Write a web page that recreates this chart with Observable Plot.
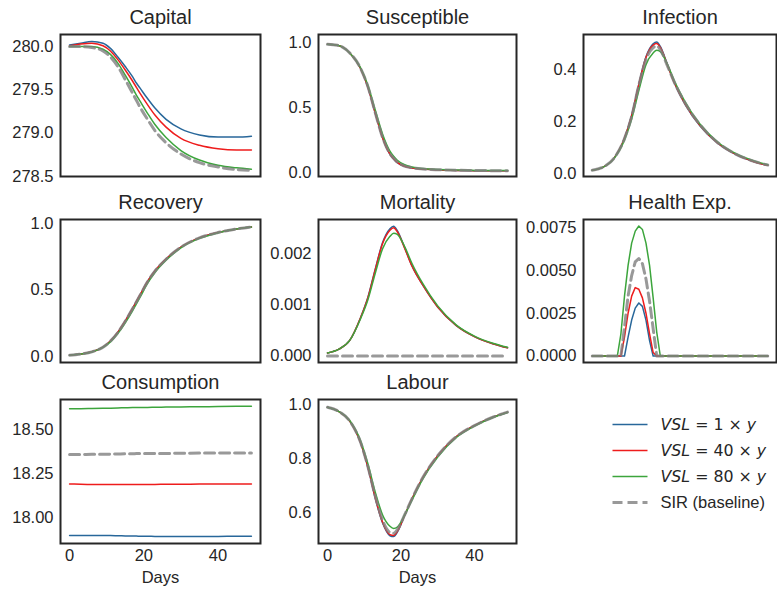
<!DOCTYPE html>
<html><head><meta charset="utf-8">
<script src="https://cdn.jsdelivr.net/npm/d3@7"></script>
<script src="https://cdn.jsdelivr.net/npm/@observablehq/plot@0.6"></script>
<style>
body{margin:0;background:#fff;overflow:hidden}
#chart{position:relative;width:777px;height:590px;background:#fff}
.cell{position:absolute}
.cell svg{display:block}
</style></head><body><div id="chart"></div>
<script>
// ---------- data ----------
const days = [0, 3, 6, 9, 11, 13, 15, 17, 18, 19, 21, 23, 26, 30, 35, 40, 45, 49];
const hDays = [0, 7, 8, 9, 10, 11, 12, 13, 14, 15, 16, 17, 18, 19, 20, 49];
const xTicks = [0, 20, 40];
const seriesNames = ["VSL1", "VSL40", "VSL80", "SIR"];
const legendLabels = ["VSL = 1 × y", "VSL = 40 × y", "VSL = 80 × y", "SIR (baseline)"];

const capBlue  = [280.02, 280.04, 280.06, 280.04, 279.98, 279.88, 279.77, 279.65, 279.58, 279.52, 279.40, 279.29, 279.16, 279.05, 278.98, 278.955, 278.955, 278.965];
const capRed   = [280.01, 280.03, 280.04, 280.01, 279.95, 279.85, 279.73, 279.60, 279.53, 279.46, 279.33, 279.21, 279.07, 278.94, 278.86, 278.82, 278.805, 278.805];
const capGreen = [280.00, 280.00, 280.00, 279.97, 279.91, 279.81, 279.67, 279.52, 279.44, 279.37, 279.23, 279.10, 278.95, 278.80, 278.69, 278.63, 278.60, 278.585];
const capGray  = [280.00, 280.00, 279.99, 279.95, 279.88, 279.77, 279.62, 279.46, 279.38, 279.30, 279.16, 279.03, 278.89, 278.76, 278.66, 278.61, 278.58, 278.57];

const susBlue  = [0.985, 0.975, 0.92, 0.80, 0.655, 0.455, 0.265, 0.14, 0.105, 0.077, 0.048, 0.036, 0.027, 0.021, 0.017, 0.015, 0.014, 0.014];
const susRed   = [0.985, 0.975, 0.92, 0.80, 0.657, 0.457, 0.267, 0.142, 0.107, 0.078, 0.049, 0.036, 0.027, 0.021, 0.017, 0.015, 0.014, 0.014];
const susGreen = [0.985, 0.975, 0.92, 0.805, 0.67, 0.48, 0.295, 0.165, 0.125, 0.095, 0.06, 0.043, 0.031, 0.024, 0.019, 0.017, 0.016, 0.016];
const susGray  = [0.985, 0.975, 0.92, 0.80, 0.66, 0.46, 0.27, 0.145, 0.11, 0.08, 0.05, 0.037, 0.028, 0.022, 0.018, 0.016, 0.015, 0.015];

const infBlue  = [0.013, 0.025, 0.058, 0.137, 0.225, 0.345, 0.45, 0.50, 0.507, 0.49, 0.42, 0.347, 0.265, 0.185, 0.117, 0.074, 0.047, 0.032];
const infRed   = [0.013, 0.025, 0.058, 0.136, 0.223, 0.343, 0.447, 0.495, 0.501, 0.486, 0.418, 0.348, 0.267, 0.187, 0.118, 0.075, 0.047, 0.032];
const infGreen = [0.013, 0.025, 0.057, 0.13, 0.21, 0.32, 0.42, 0.465, 0.475, 0.47, 0.42, 0.355, 0.275, 0.192, 0.122, 0.078, 0.05, 0.034];
const infGray  = [0.013, 0.025, 0.058, 0.135, 0.22, 0.34, 0.44, 0.485, 0.492, 0.478, 0.415, 0.35, 0.27, 0.19, 0.12, 0.076, 0.048, 0.033];

const recBlue  = [0.01, 0.018, 0.035, 0.071, 0.117, 0.183, 0.268, 0.363, 0.413, 0.463, 0.563, 0.643, 0.732, 0.821, 0.89, 0.93, 0.957, 0.972];
const recRed   = [0.01, 0.018, 0.035, 0.071, 0.116, 0.182, 0.267, 0.362, 0.412, 0.462, 0.562, 0.642, 0.731, 0.821, 0.89, 0.93, 0.957, 0.972];
const recGreen = [0.01, 0.018, 0.034, 0.068, 0.11, 0.172, 0.253, 0.345, 0.395, 0.445, 0.548, 0.63, 0.722, 0.815, 0.886, 0.928, 0.956, 0.971];
const recGray  = [0.01, 0.018, 0.035, 0.07, 0.115, 0.18, 0.265, 0.36, 0.41, 0.46, 0.56, 0.64, 0.73, 0.82, 0.89, 0.93, 0.957, 0.972];

const morBlue  = [0.00006, 0.00013, 0.0003, 0.00075, 0.00115, 0.0017, 0.00222, 0.00249, 0.00254, 0.00245, 0.00212, 0.00176, 0.00138, 0.00096, 0.0006, 0.00038, 0.00024, 0.00016];
const morRed   = [0.00006, 0.00013, 0.0003, 0.00075, 0.00114, 0.00169, 0.0022, 0.00246, 0.00251, 0.00243, 0.00211, 0.00176, 0.00138, 0.00096, 0.0006, 0.00038, 0.00024, 0.00016];
const morGreen = [0.00006, 0.00013, 0.0003, 0.00073, 0.0011, 0.00162, 0.0021, 0.00234, 0.0024, 0.00238, 0.00214, 0.00181, 0.00141, 0.00098, 0.00061, 0.00039, 0.00025, 0.00017];
const morGray  = [0, 0, 0, 0, 0, 0, 0, 0, 0, 0, 0, 0, 0, 0, 0, 0, 0, 0];

const heBlue  = [0, 0, 0, 0, 0.0011, 0.0021, 0.0028, 0.0031, 0.0029, 0.0021, 0.0009, 0, 0, 0, 0, 0];
const heRed   = [0, 0, 0, 0.0011, 0.0025, 0.0035, 0.0040, 0.0039, 0.0034, 0.0025, 0.0013, 0.0002, 0, 0, 0, 0];
const heGreen = [0, 0, 0.0013, 0.0035, 0.0053, 0.0066, 0.0073, 0.0076, 0.0074, 0.0066, 0.0053, 0.0034, 0.0014, 0, 0, 0];
const heGray  = [0, 0, 0, 0.0017, 0.0035, 0.0047, 0.0055, 0.0057, 0.0054, 0.0045, 0.0032, 0.0016, 0, 0, 0, 0];

const conBlue  = [17.90, 17.90, 17.90, 17.90, 17.90, 17.899, 17.898, 17.897, 17.897, 17.896, 17.896, 17.895, 17.895, 17.895, 17.895, 17.895, 17.896, 17.896];
const conRed   = [18.193, 18.191, 18.19, 18.19, 18.19, 18.19, 18.19, 18.19, 18.19, 18.19, 18.19, 18.19, 18.191, 18.191, 18.192, 18.192, 18.193, 18.193];
const conGreen = [18.62, 18.62, 18.621, 18.622, 18.623, 18.624, 18.625, 18.626, 18.626, 18.627, 18.627, 18.628, 18.629, 18.63, 18.631, 18.632, 18.633, 18.633];
const conGray  = [18.36, 18.36, 18.361, 18.361, 18.362, 18.363, 18.364, 18.364, 18.365, 18.365, 18.365, 18.366, 18.366, 18.367, 18.368, 18.368, 18.369, 18.369];

const labBlue  = [0.99, 0.975, 0.94, 0.858, 0.766, 0.652, 0.56, 0.513, 0.51, 0.526, 0.588, 0.65, 0.73, 0.81, 0.88, 0.922, 0.953, 0.972];
const labRed   = [0.99, 0.975, 0.94, 0.859, 0.768, 0.655, 0.563, 0.517, 0.514, 0.529, 0.589, 0.65, 0.73, 0.81, 0.88, 0.922, 0.953, 0.972];
const labGreen = [0.99, 0.975, 0.942, 0.866, 0.78, 0.675, 0.59, 0.548, 0.54, 0.545, 0.59, 0.645, 0.725, 0.805, 0.877, 0.92, 0.952, 0.971];
const labGray  = [0.99, 0.975, 0.94, 0.86, 0.77, 0.66, 0.57, 0.525, 0.522, 0.535, 0.59, 0.65, 0.73, 0.81, 0.88, 0.922, 0.953, 0.972];

// ---------- style ----------
const FONT = '"Liberation Sans", Arial, Helvetica, sans-serif';
const INK = "#262626";
const COLORS = ["#28679a", "#ee1c1c", "#3ca53c", "#808080"];
const WIDTHS = [1.5, 1.5, 1.5, 3];
const DASH = [null, null, null, "10,5"];
const OPAC = [1, 1, 1, 0.8];
const COLS = [[60, 260], [318, 516], [583, 776]];
const ROWS = [[34, 176], [219, 362], [399, 543]];
const chart = document.getElementById("chart");

function panel({title, col, row, xs, data, yDomain, yTicks, yFmt, xAxis, curve}) {
  const [x0, x1] = COLS[col], [y0, y1] = ROWS[row];
  const mL = 62, mR = 4, mT = 36, mB = xAxis ? 48 : 6;
  const lines = data.map((vals, k) => Plot.line(vals, {
    x: (d, i) => xs[i], y: d => d,
    stroke: COLORS[k], strokeWidth: WIDTHS[k], strokeOpacity: OPAC[k],
    strokeDasharray: DASH[k], curve: curve || "monotone-x"
  }));
  const svg = Plot.plot({
    width: (x1 - x0) + mL + mR, height: (y1 - y0) + mT + mB,
    marginLeft: mL, marginRight: mR, marginTop: mT, marginBottom: mB,
    style: `font-family: ${FONT}; font-size: 16.5px; color: ${INK}; background: transparent; overflow: visible; max-width: none;`,
    x: {domain: [-2.45, 51.45], axis: null},
    y: {domain: yDomain, axis: null},
    marks: [
      ...lines,
      Plot.frame({stroke: INK, strokeWidth: 2}),
      Plot.axisY({ticks: yTicks, tickFormat: d3.format(yFmt), tickSize: 0, tickPadding: 7, fontSize: 16.5, label: null}),
      xAxis ? Plot.axisX({ticks: xTicks, tickSize: 0, tickPadding: 6, fontSize: 16.5, label: null}) : null,
      Plot.text([title], {frameAnchor: "top", lineAnchor: "middle", dy: -17, fontSize: 20, fill: INK}),
      xAxis ? Plot.text(["Days"], {frameAnchor: "bottom", lineAnchor: "middle", dy: 34, fontSize: 16.5, fill: INK}) : null
    ]
  });
  const div = document.createElement("div");
  div.className = "cell";
  div.style.left = (x0 - mL) + "px";
  div.style.top = (y0 - mT) + "px";
  div.append(svg);
  chart.append(div);
}

panel({title: "Capital", col: 0, row: 0, xs: days, data: [capBlue, capRed, capGreen, capGray],
  yDomain: [278.5, 280.14], yTicks: [278.5, 279, 279.5, 280], yFmt: ".1f"});
panel({title: "Susceptible", col: 1, row: 0, xs: days, data: [susBlue, susRed, susGreen, susGray],
  yDomain: [-0.03, 1.06], yTicks: [0, 0.5, 1], yFmt: ".1f"});
panel({title: "Infection", col: 2, row: 0, xs: days, data: [infBlue, infRed, infGreen, infGray],
  yDomain: [-0.011, 0.536], yTicks: [0, 0.2, 0.4], yFmt: ".1f"});
panel({title: "Recovery", col: 0, row: 1, xs: days, data: [recBlue, recRed, recGreen, recGray],
  yDomain: [-0.045, 1.028], yTicks: [0, 0.5, 1], yFmt: ".1f"});
panel({title: "Mortality", col: 1, row: 1, xs: days, data: [morBlue, morRed, morGreen, morGray],
  yDomain: [-0.000127, 0.00267], yTicks: [0, 0.001, 0.002], yFmt: ".3f"});
panel({title: "Health Exp.", col: 2, row: 1, xs: hDays, data: [heBlue, heRed, heGreen, heGray],
  yDomain: [-0.00038, 0.00798], yTicks: [0, 0.0025, 0.005, 0.0075], yFmt: ".4f", curve: "linear"});
panel({title: "Consumption", col: 0, row: 2, xs: days, data: [conBlue, conRed, conGreen, conGray],
  yDomain: [17.855, 18.672], yTicks: [18, 18.25, 18.5], yFmt: ".2f", xAxis: true});
panel({title: "Labour", col: 1, row: 2, xs: days, data: [labBlue, labRed, labGreen, labGray],
  yDomain: [0.484, 1.019], yTicks: [0.6, 0.8, 1.0], yFmt: ".1f", xAxis: true});

// ---------- legend ----------
const legend = Plot.plot({
  width: 187, height: 120, margin: 0,
  style: `font-family: ${FONT}; font-size: 16.5px; color: ${INK}; background: transparent; overflow: visible; max-width: none;`,
  x: {domain: [0, 1], range: [22, 57], axis: null},
  y: {type: "point", domain: legendLabels, range: [18.3, 97.7], padding: 0, axis: null},
  marks: [
    ...legendLabels.map((l, k) => Plot.link([l], {
      x1: 0, x2: 1, y1: d => d, y2: d => d,
      stroke: COLORS[k], strokeWidth: WIDTHS[k], strokeOpacity: OPAC[k], strokeDasharray: DASH[k]
    })),
    Plot.text(legendLabels, {x: 1, y: d => d, dx: 13, textAnchor: "start", fontSize: 16.5, fill: INK})
  ]
});
d3.select(legend).selectAll("text").each(function () {
  const t = this.textContent;
  const m = /^VSL = (\d+) × y$/.exec(t);
  if (!m) return;
  const sel = d3.select(this);
  sel.text(null).style("font-family", '"DejaVu Sans", sans-serif').style("font-size", "15.8px");
  sel.append("tspan").attr("font-style", "italic").text("VSL");
  sel.append("tspan").text(` = ${m[1]} × `);
  sel.append("tspan").attr("font-style", "italic").text("y");
});
const ldiv = document.createElement("div");
ldiv.className = "cell";
ldiv.style.left = "590px";
ldiv.style.top = "405px";
ldiv.append(legend);
chart.append(ldiv);
</script>
</body></html>
